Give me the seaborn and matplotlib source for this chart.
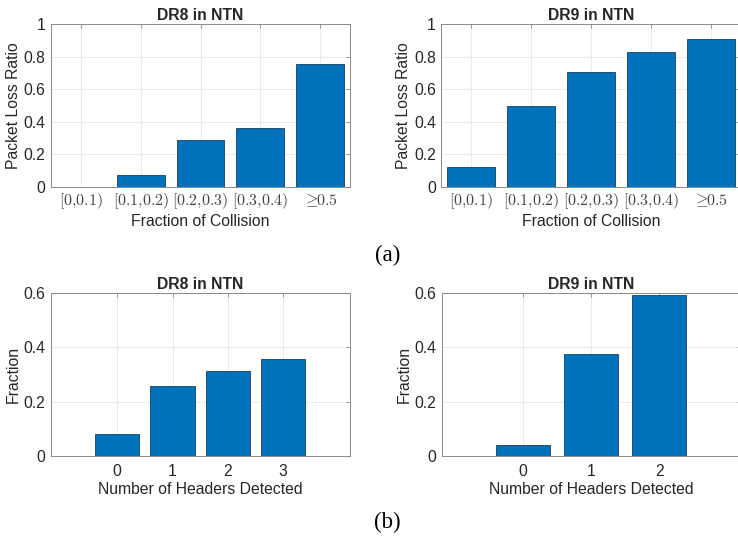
import matplotlib
matplotlib.use('Agg')
import matplotlib.pyplot as plt
import seaborn as sns
from matplotlib.ticker import FuncFormatter

# Daten
collision_bins = [r'$[0{,}0.1)$', r'$[0.1{,}0.2)$', r'$[0.2{,}0.3)$', r'$[0.3{,}0.4)$', r'$\geq\!\!0.5$']
plr_dr8 = [0.0, 0.071, 0.29, 0.365, 0.753]
plr_dr9 = [0.12, 0.494, 0.703, 0.827, 0.907]

headers_dr8 = ['0', '1', '2', '3']
frac_dr8 = [0.079, 0.257, 0.314, 0.356]
headers_dr9 = ['0', '1', '2']
frac_dr9 = [0.038, 0.375, 0.592]

titles = ['DR8 in NTN', 'DR9 in NTN']

bar_color = '#0072BD'
edge_color = '#1c3d5e'
text_color = '#262626'
spine_color = '#8a8a8a'
fs = 11.3

sns.set_style('white')
plt.rcParams['font.family'] = ['Liberation Sans', 'DejaVu Sans']
plt.rcParams['mathtext.fontset'] = 'cm'
plt.rcParams['font.size'] = fs

fig = plt.figure(figsize=(7.38, 5.39), dpi=100)
W, H = 738.0, 539.0
axw = 299 / W
pos = {
    'tl': [51 / W, (539 - 187) / H, axw, 163 / H],
    'tr': [441.5 / W, (539 - 187) / H, axw, 163 / H],
    'bl': [50.7 / W, (539 - 455.7) / H, axw, 162.4 / H],
    'br': [441.7 / W, (539 - 455.7) / H, axw, 162.4 / H],
}


def style_axis(ax, ymax, title, xlabel, ylabel):
    ax.set_ylim(0, ymax)
    ax.set_yticks([i * 0.2 for i in range(int(round(ymax / 0.2)) + 1)])
    ax.yaxis.set_major_formatter(FuncFormatter(lambda v, p: '%g' % round(v, 2)))
    ax.grid(True, color='#e6e6e6', linewidth=0.6)
    ax.set_axisbelow(True)
    for s in ax.spines.values():
        s.set_visible(True)
        s.set_color(spine_color)
        s.set_linewidth(0.7)
    ax.tick_params(direction='in', length=3, width=0.6, color=spine_color,
                   top=True, right=True, labelcolor=text_color, labelsize=fs, pad=4)
    ax.set_title(title, fontsize=fs, fontweight='bold', color=text_color, pad=3)
    ax.set_xlabel(xlabel, fontsize=fs, color=text_color, labelpad=2)
    ax.set_ylabel(ylabel, fontsize=fs, color=text_color, labelpad=2)


# Obere Reihe: Packet Loss Ratio
for key, vals, title in [('tl', plr_dr8, titles[0]), ('tr', plr_dr9, titles[1])]:
    ax = fig.add_axes(pos[key])
    sns.barplot(x=collision_bins, y=vals, color=bar_color, saturation=1, width=0.8,
                edgecolor=edge_color, linewidth=0.6, ax=ax)
    ax.set_xlim(-0.5, 4.5)
    style_axis(ax, 1.0, title, 'Fraction of Collision', 'Packet Loss Ratio')
    ax.tick_params(axis='x', pad=3)
    for lbl in ax.get_xticklabels():
        lbl.set_fontsize(11.5)
        lbl.set_color('#444444')

# Untere Reihe: Anzahl erkannter Header
for key, cats, vals, title in [('bl', headers_dr8, frac_dr8, titles[0]),
                               ('br', headers_dr9, frac_dr9, titles[1])]:
    ax = fig.add_axes(pos[key])
    sns.barplot(x=cats, y=vals, color=bar_color, saturation=1, width=0.8,
                edgecolor=edge_color, linewidth=0.6, ax=ax)
    ax.set_xlim(-1.2, len(cats) - 1 + 1.2)
    style_axis(ax, 0.6, title, 'Number of Headers Detected', 'Fraction')
    ax.tick_params(axis='x', pad=6)

fig.text(388 / W, 1 - 255 / H, '(a)', ha='center', va='center',
         fontsize=16.5, family='Liberation Serif', color='black')
fig.text(387 / W, 1 - 522 / H, '(b)', ha='center', va='center',
         fontsize=16.5, family='Liberation Serif', color='black')

fig.savefig('out.png', dpi=100)
